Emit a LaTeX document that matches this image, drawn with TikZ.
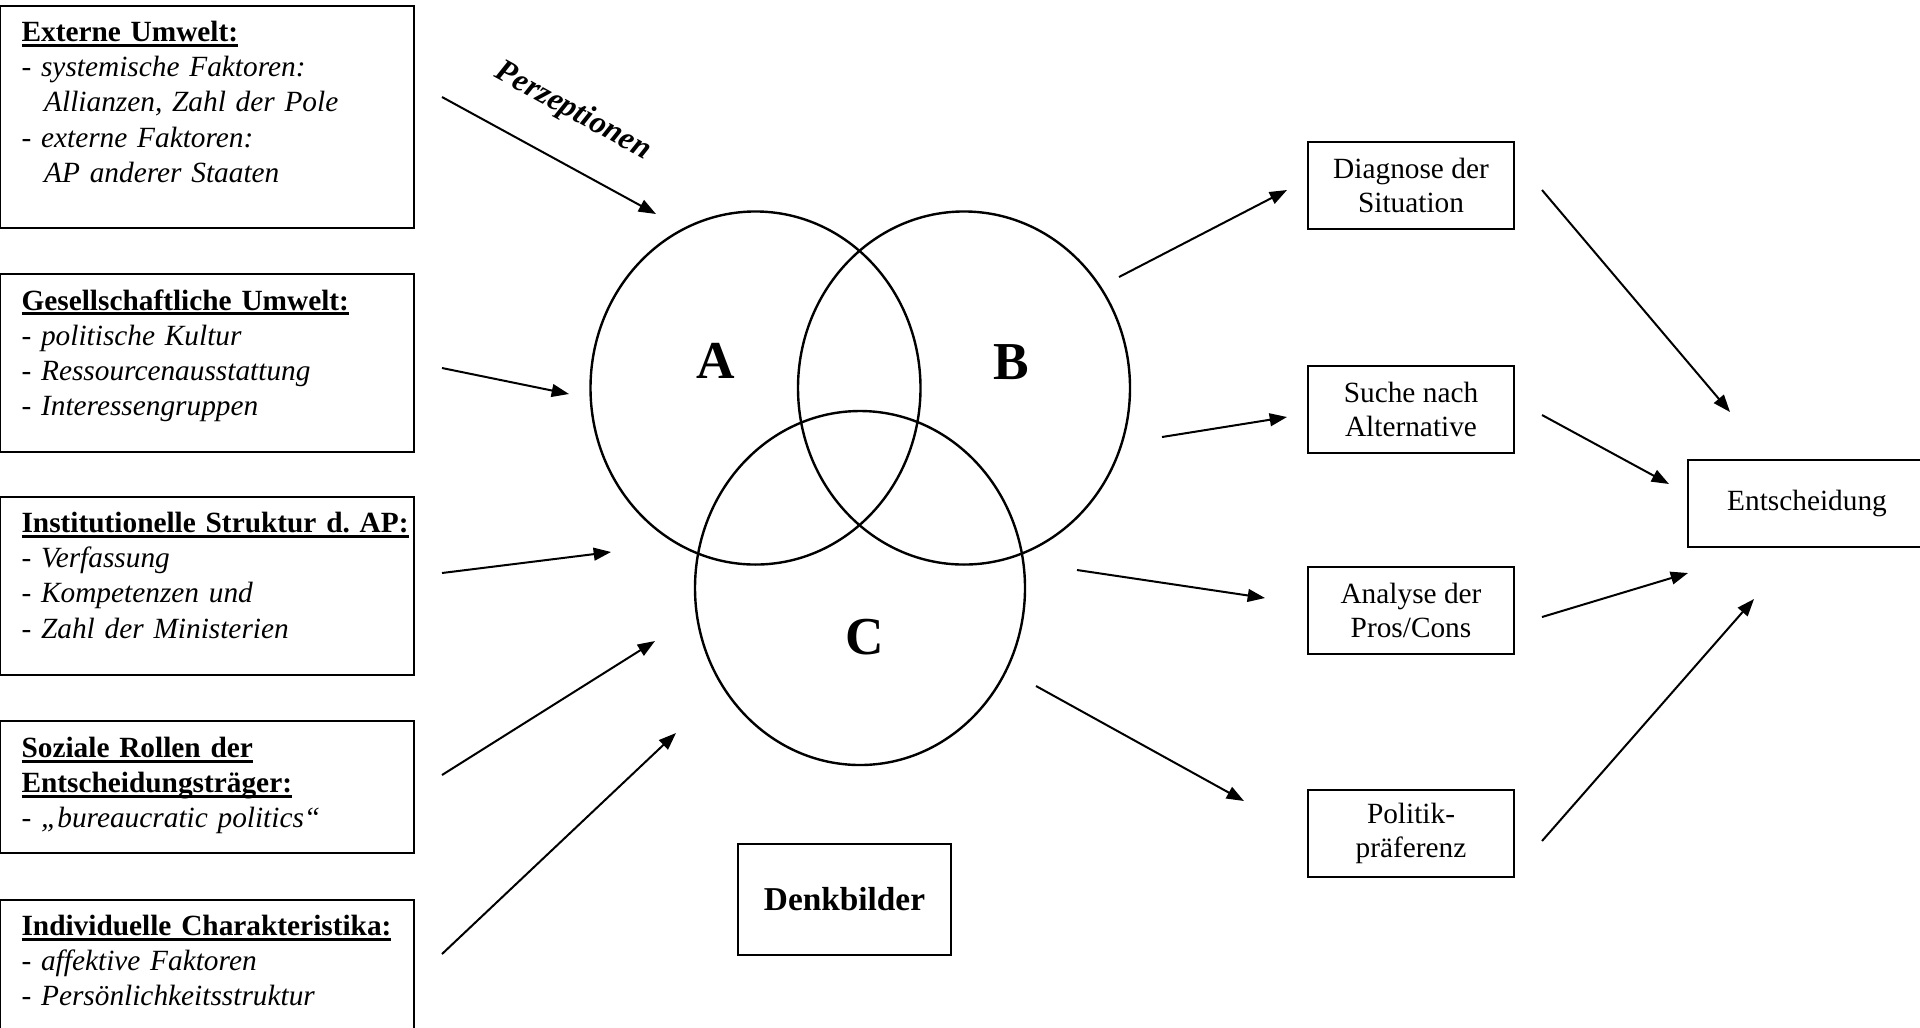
\documentclass[tikz,border=0pt]{standalone}
\usepackage{fontspec}
\setmainfont{Liberation Serif}
\usetikzlibrary{arrows.meta,shapes.geometric,fit}

\newsavebox\headbox
\newcommand{\heading}[1]{\leavevmode\sbox\headbox{\bfseries #1}\rlap{\rule[-1.9pt]{\wd\headbox}{1.1pt}}\usebox\headbox}

\begin{document}
\frenchspacing
\begin{tikzpicture}[x=0.375pt, y=-0.375pt,
    frame/.style={draw, line width=1pt, inner sep=0pt},
    factor/.style={anchor=north west, inner sep=0pt, text width=145pt, align=left, font=\fontsize{11}{13.2}\selectfont},
    stage/.style={draw, line width=0.8pt, inner sep=0pt, align=center, minimum width=77.25pt, minimum height=32.6pt, font=\fontsize{11}{12.6}\selectfont},
    venn/.style={draw, ellipse, line width=0.9pt, inner sep=0pt, minimum width=123.75pt, minimum height=132.4pt},
    setlabel/.style={inner sep=0pt, font=\fontsize{20}{24}\selectfont\bfseries},
    arrow/.style={-{Triangle[length=6.5pt,width=4.8pt]}, line width=0.75pt}]
    \useasboundingbox (0,0) rectangle (1920,1027);

    % Einflussfaktoren
    \node[frame, fit={(0,6) (414,228)}] (ext) {};
    \node[factor] (extT) at (21,16.4) {\strut\heading{Externe Umwelt:}\\
        - \textit{systemische Faktoren:}\\
        \hspace*{8.5pt}\textit{Allianzen, Zahl der Pole}\\
        - \textit{externe Faktoren:}\\
        \hspace*{8.5pt}\textit{AP anderer Staaten}};

    \node[frame, fit={(0,274) (414,452)}] (soc) {};
    \node[factor] (socT) at (21,284.9) {\strut\heading{Gesellschaftliche Umwelt:}\\
        - \textit{politische Kultur}\\
        - \textit{Ressourcenausstattung}\\
        - \textit{Interessengruppen}};

    \node[frame, fit={(0,497) (414,675)}] (inst) {};
    \node[factor] (instT) at (21,507.4) {\strut\heading{Institutionelle Struktur d. AP:}\\
        - \textit{Verfassung}\\
        - \textit{Kompetenzen und}\\
        - \textit{Zahl der Ministerien}};

    \node[frame, fit={(0,721) (414,853)}] (roles) {};
    \node[factor] (rolesT) at (21,732.4) {\strut\heading{Soziale Rollen der}\\
        \heading{Entscheidungsträger:}\\
        - \textit{„bureaucratic politics“}};

    \node[frame, fit={(0,900) (414,1045)}] (indiv) {};
    \node[factor] (indivT) at (21,910.4) {\strut\heading{Individuelle Charakteristika:}\\
        - \textit{affektive Faktoren}\\
        - \textit{Persönlichkeitsstruktur}};

    % Denkbilder
    \node[venn] (setA) at (755.5,388) {};
    \node[venn, minimum width=124.5pt] (setB) at (964,388) {};
    \node[venn, minimum height=132.75pt] (setC) at (860,588) {};
    \node[setlabel] (labA) at (716,361) {A};
    \node[setlabel] (labB) at (1011,362) {B};
    \node[setlabel] (labC) at (865,637) {C};
    \node[frame, minimum width=79.9pt, minimum height=41.6pt, font=\fontsize{12.5}{15}\selectfont\bfseries] (denk) at (844.5,899.5) {Denkbilder};

    % Entscheidungsprozess
    \node[stage] (diag) at (1411,185.5) {Diagnose der\\Situation};
    \node[stage] (search) at (1411,409.5) {Suche nach\\Alternative};
    \node[stage] (pros) at (1411,610.5) {Analyse der\\Pros/Cons};
    \node[stage] (pref) at (1411,833.5) {Politik-\\präferenz};
    \node[stage, minimum width=89.25pt] (decision) at (1807,503.5) {Entscheidung};

    % Pfeilenden
    \coordinate (extS) at (442,97);    \coordinate (extE) at (656,214);
    \coordinate (socS) at (442,368);   \coordinate (socE) at (569,394);
    \coordinate (instS) at (442,573);  \coordinate (instE) at (611,552);
    \coordinate (rolesS) at (442,775); \coordinate (rolesE) at (655,641);
    \coordinate (indivS) at (442,954); \coordinate (indivE) at (676,733);
    \coordinate (diagS) at (1119,277);   \coordinate (diagE) at (1287,190);
    \coordinate (searchS) at (1162,437); \coordinate (searchE) at (1287,417);
    \coordinate (prosS) at (1077,570);   \coordinate (prosE) at (1265,598);
    \coordinate (prefS) at (1036,686);   \coordinate (prefE) at (1244,801);
    \coordinate (dec1S) at (1542,190); \coordinate (dec1E) at (1730,412);
    \coordinate (dec2S) at (1542,415); \coordinate (dec2E) at (1669,484);
    \coordinate (dec3S) at (1542,617); \coordinate (dec3E) at (1688,573);
    \coordinate (dec4S) at (1542,841); \coordinate (dec4E) at (1754,599);

    % Pfeile
    \draw[arrow] (extS) -- node[sloped, pos=0.5, above=13pt, inner sep=0pt, font=\fontsize{12}{14}\selectfont\bfseries\itshape] (perz) {Perzeptionen} (extE);
    \draw[arrow] (socS) -- (socE);
    \draw[arrow] (instS) -- (instE);
    \draw[arrow] (rolesS) -- (rolesE);
    \draw[arrow] (indivS) -- (indivE);

    \draw[arrow] (diagS) -- (diagE);
    \draw[arrow] (searchS) -- (searchE);
    \draw[arrow] (prosS) -- (prosE);
    \draw[arrow] (prefS) -- (prefE);

    \draw[arrow] (dec1S) -- (dec1E);
    \draw[arrow] (dec2S) -- (dec2E);
    \draw[arrow] (dec3S) -- (dec3E);
    \draw[arrow] (dec4S) -- (dec4E);
\end{tikzpicture}
\end{document}
